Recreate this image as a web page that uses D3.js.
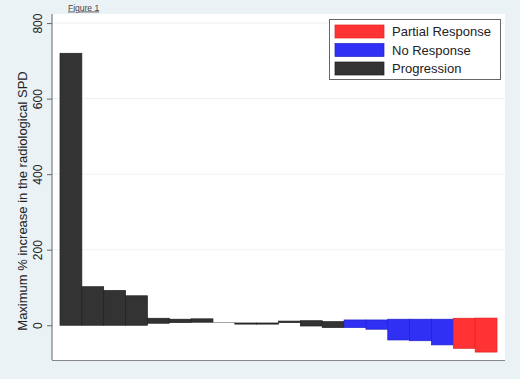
<!DOCTYPE html>
<html>
<head>
<meta charset="utf-8">
<script src="https://cdn.jsdelivr.net/npm/d3@7"></script>
<style>
  html, body { margin: 0; padding: 0; background: #eaf2f6; }
  svg { display: block; }
</style>
</head>
<body>
<svg id="chart" width="520" height="379"></svg>
<script>
// ---- data ----
const patients = d3.range(1, 21).map(String);
const barTop    = [720, 102, 92, 78, 18.5, 16, 17, 8.2, 6, 6, 11, 12, 9.5, 14, 14, 16, 16, 16, 18.5, 19];
const barBottom = [0, 0, 0, 0, 5.3, 7, 8, 7.6, 3, 3, 7, -2, -6, -6, -10.5, -39, -41, -52, -61, -71];
const response  = ["Progression","Progression","Progression","Progression","Progression","Progression",
  "Progression","Progression","Progression","Progression","Progression","Progression","Progression",
  "No Response","No Response","No Response","No Response","No Response",
  "Partial Response","Partial Response"];
const legendOrder = ["Partial Response", "No Response", "Progression"];
const yTicks = [0, 200, 400, 600, 800];
const yTitle = "Maximum % increase in the radiological SPD";
const figureLabel = "Figure 1";

// ---- styles ----
const fillColor = { "Partial Response": "#ff3333", "No Response": "#3030f5", "Progression": "#333333" };
const strokeColor = { "Partial Response": "#e02020", "No Response": "#2020c8", "Progression": "#1e1e1e" };
const font = "'Liberation Sans', Arial, sans-serif";

const svg = d3.select("#chart");
const plot = { left: 52, right: 505, top: 14, bottom: 360 };

// background panels
svg.append("rect").attr("x", 0).attr("y", 0).attr("width", 520).attr("height", 379).attr("fill", "#eaf2f6");
svg.append("rect").attr("x", plot.left).attr("y", plot.top)
  .attr("width", plot.right - plot.left).attr("height", plot.bottom - plot.top).attr("fill", "#ffffff");

const y = d3.scaleLinear().domain([-92, 824]).range([plot.bottom, plot.top]);
const x = d3.scaleBand().domain(patients).range([60, 497]).paddingInner(0).paddingOuter(0);

// gridlines
svg.append("g").selectAll("line").data(yTicks.filter(d => d > 0)).join("line")
  .attr("x1", plot.left).attr("x2", plot.right)
  .attr("y1", d => y(d)).attr("y2", d => y(d))
  .attr("stroke", "#eef1f3").attr("stroke-width", 1);

// y axis
const yAxis = d3.axisLeft(y).tickValues(yTicks).tickSize(5).tickSizeOuter(0).tickFormat(d3.format("d"));
const gy = svg.append("g").attr("transform", `translate(${plot.left},0)`).call(yAxis);
gy.select(".domain").attr("stroke", "#666").attr("d", `M0,${plot.top}V${plot.bottom}`);
gy.selectAll(".tick line").attr("stroke", "#666");
gy.selectAll(".tick text")
  .attr("x", null).attr("dy", null)
  .attr("transform", "translate(-10,0) rotate(-90)")
  .attr("text-anchor", "middle")
  .attr("font-family", font).attr("font-size", 12).attr("fill", "#222");

// bottom axis line
svg.append("line").attr("x1", plot.left).attr("x2", plot.right)
  .attr("y1", plot.bottom + 0.5).attr("y2", plot.bottom + 0.5)
  .attr("stroke", "#888").attr("stroke-width", 1);

// bars
const bars = patients.map((p, i) => ({ p, top: barTop[i], bottom: barBottom[i], r: response[i] }));
svg.append("g").selectAll("rect").data(bars).join("rect")
  .attr("x", d => x(d.p))
  .attr("width", x.bandwidth())
  .attr("y", d => y(d.top))
  .attr("height", d => Math.max(0.8, y(d.bottom) - y(d.top)))
  .attr("fill", d => fillColor[d.r])
  .attr("fill-opacity", d => (y(d.bottom) - y(d.top)) < 1 ? 0.55 : 1)
  .attr("stroke", d => strokeColor[d.r])
  .attr("stroke-width", d => (y(d.bottom) - y(d.top)) < 1 ? 0 : 0.7);

// y title
svg.append("text")
  .attr("transform", `translate(26.5,${(plot.top + plot.bottom) / 2 + 14}) rotate(-90)`)
  .attr("text-anchor", "middle")
  .attr("font-family", font).attr("font-size", 13).attr("fill", "#222")
  .text(yTitle);

// figure label
svg.append("text")
  .attr("x", 68).attr("y", 10.5)
  .attr("font-family", font).attr("font-size", 8.5).attr("fill", "#444")
  .attr("text-decoration", "underline")
  .text(figureLabel);

// legend
const lg = svg.append("g");
lg.append("rect").attr("x", 329.5).attr("y", 19.5).attr("width", 171).attr("height", 60)
  .attr("fill", "#fff").attr("stroke", "#666").attr("stroke-width", 1);
const items = lg.selectAll("g.item").data(legendOrder).join("g").attr("class", "item")
  .attr("transform", (d, i) => `translate(0,${25 + i * 18.5})`);
items.append("rect").attr("x", 335).attr("y", 0).attr("width", 49).attr("height", 13)
  .attr("fill", d => fillColor[d]).attr("stroke", d => strokeColor[d]).attr("stroke-width", 0.7);
items.append("text").attr("x", 392).attr("y", 11)
  .attr("font-family", font).attr("font-size", 13).attr("fill", "#222")
  .text(d => d);
</script>
</body>
</html>
